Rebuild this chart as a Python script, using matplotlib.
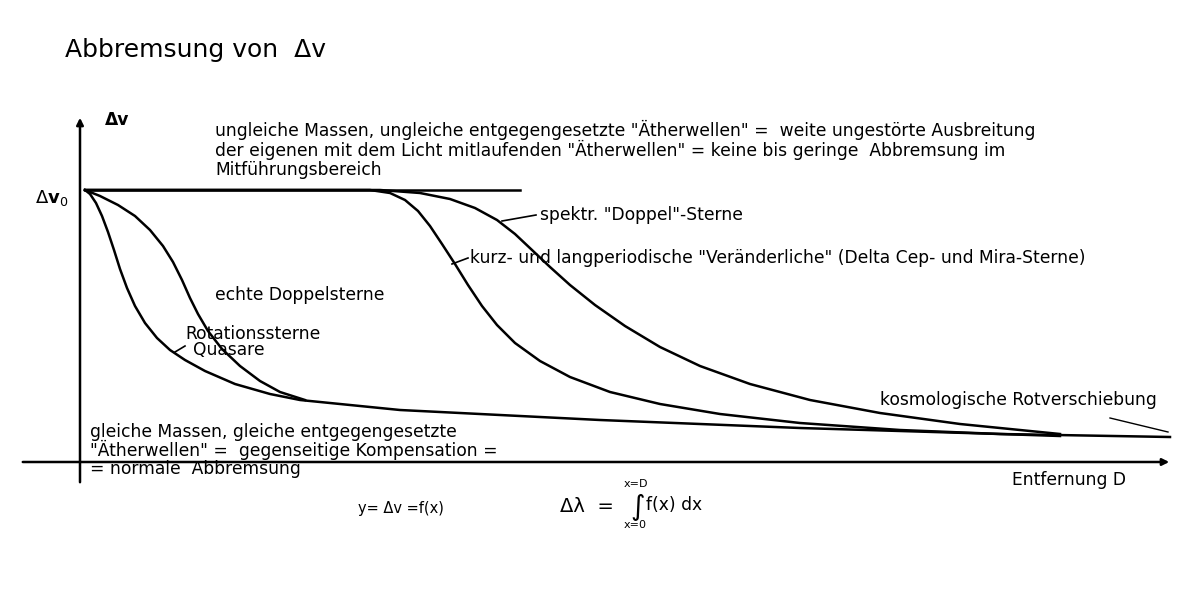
import matplotlib
matplotlib.use("Agg")
import matplotlib.pyplot as plt

# curve points (pixel-space diagram coordinates)
quasare_x = [85, 90, 96, 102, 108, 114, 120, 127, 135, 145, 157, 170, 185, 205, 235, 270, 300, 400, 600, 800, 1000, 1170]
quasare_y = [190, 194, 203, 216, 232, 250, 269, 288, 306, 323, 338, 350, 360, 371, 384, 394, 400, 410, 420, 428, 434, 437]
rot_x = [85, 100, 118, 135, 150, 163, 173, 182, 190, 198, 208, 222, 240, 260, 280, 305]
rot_y = [190, 196, 205, 216, 230, 246, 262, 280, 298, 314, 331, 349, 366, 381, 392, 400]
kurz_x = [85, 370, 390, 405, 418, 430, 442, 455, 468, 482, 497, 515, 540, 570, 610, 660, 720, 800, 900, 1000, 1060]
kurz_y = [190, 190, 193, 200, 211, 226, 244, 264, 285, 306, 325, 343, 361, 377, 392, 404, 414, 423, 430, 434, 436]
doppel_x = [85, 380, 420, 450, 475, 497, 515, 532, 550, 570, 595, 625, 660, 700, 750, 810, 880, 960, 1030, 1060]
doppel_y = [190, 190, 193, 199, 208, 220, 234, 250, 267, 285, 305, 326, 347, 366, 384, 400, 413, 424, 431, 434]
top_x = [85, 520]
top_y = [190, 190]

fig = plt.figure(figsize=(12, 6), dpi=100)
ax = fig.add_axes([0, 0, 1, 1])
ax.set_xlim(0, 1200); ax.set_ylim(600, 0); ax.axis("off")
lw = 1.8
for xs, ys in [(quasare_x, quasare_y), (rot_x, rot_y), (kurz_x, kurz_y), (doppel_x, doppel_y), (top_x, top_y)]:
    ax.plot(xs, ys, color="black", lw=lw, solid_joinstyle="round")

ax.annotate("", xy=(80, 115), xytext=(80, 485), arrowprops=dict(arrowstyle="-|>", color="black", lw=1.8))
ax.annotate("", xy=(1172, 462), xytext=(20, 462), arrowprops=dict(arrowstyle="-|>", color="black", lw=1.8))
ax.plot([502, 536], [221, 215], color="black", lw=1.2)
ax.plot([452, 468], [264, 258], color="black", lw=1.2)
ax.plot([1110, 1168], [418, 432], color="black", lw=1.0)
ax.plot([175, 185], [352, 346], color="black", lw=1.2)

fs = 12.3
def t(x, y, s, size=fs, **kw):
    ax.text(x, y, s, fontsize=size, va="center", ha="left", family="DejaVu Sans", **kw)

t(65, 50, "Abbremsung von  Δv", size=18)
t(105, 120, "Δv", weight="bold")
t(35, 198, r"$\Delta\mathbf{v}_0$", size=13)
t(215, 130, 'ungleiche Massen, ungleiche entgegengesetzte "Ätherwellen" =  weite ungestörte Ausbreitung')
t(215, 150, 'der eigenen mit dem Licht mitlaufenden "Ätherwellen" = keine bis geringe  Abbremsung im')
t(215, 170, "Mitführungsbereich")
t(540, 215, 'spektr. "Doppel"-Sterne')
t(470, 258, 'kurz- und langperiodische "Veränderliche" (Delta Cep- und Mira-Sterne)')
t(215, 295, "echte Doppelsterne")
t(185, 334, "Rotationssterne")
t(193, 350, "Quasare")
t(880, 400, "kosmologische Rotverschiebung")
t(90, 432, "gleiche Massen, gleiche entgegengesetzte")
t(90, 450, '"Ätherwellen" =  gegenseitige Kompensation =')
t(90, 469, "= normale  Abbremsung")
t(1012, 480, "Entfernung D")
t(358, 508, "y= Δv =f(x)", size=10.5)
t(560, 507, "Δλ  =", size=14)
t(630, 507, "∫", size=20)
t(624, 484, "x=D", size=8)
t(624, 525, "x=0", size=8)
t(646, 505, "f(x) dx", size=12.3)
fig.savefig("out.png", dpi=100, facecolor="white")
